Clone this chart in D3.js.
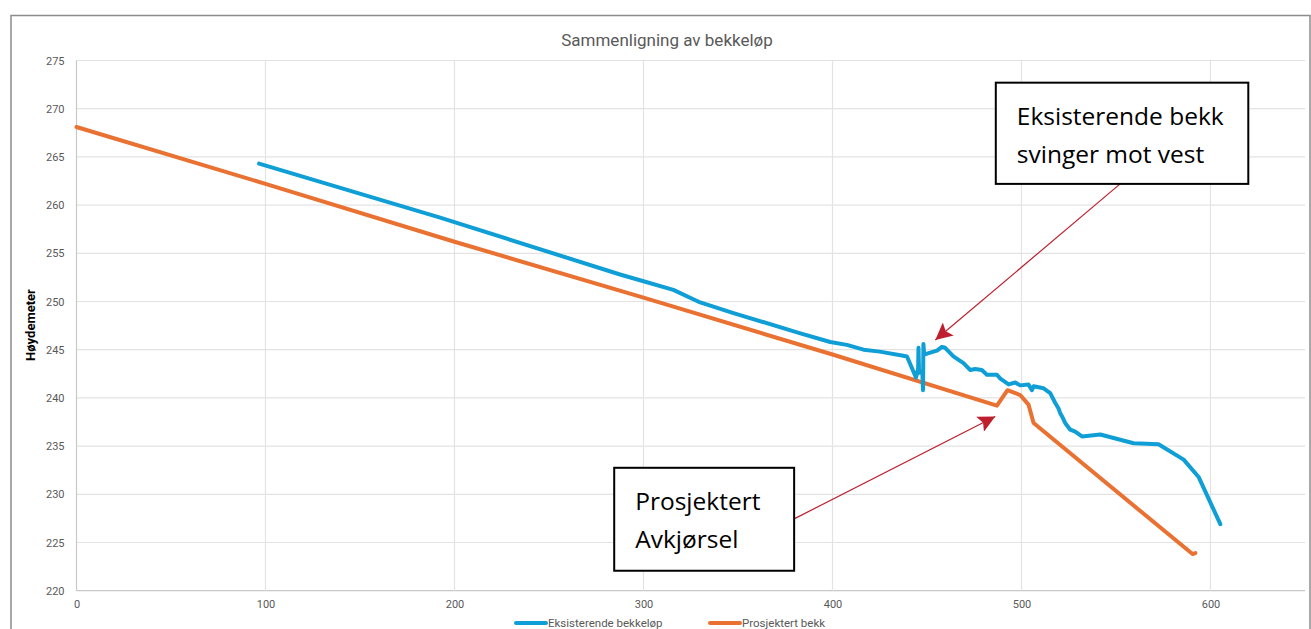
<!DOCTYPE html>
<html><head><meta charset="utf-8">
<script src="https://cdn.jsdelivr.net/npm/d3@7"></script>
<style>body{margin:0;background:#fff}svg{display:block}</style>
</head><body>
<svg id="c" width="1311" height="629"></svg>
<script>
// ---- data ----
const xTicks = [0,100,200,300,400,500,600];
const yTicks = [220,225,230,235,240,245,250,255,260,265,270,275];
const seriesNames = ["Eksisterende bekkeløp","Prosjektert bekk"];
const existingX = [96.6,192.4,287.6,300,315.8,330,347.6,383,398.8,407.6,416.4,425,436.7,439.4,444.2,445.3,445.5,445.8,447.5,447.9,448.1,448.5,450,453.5,455.3,457.9,459.6,464,469.3,472.8,475.5,479,481.7,487,488.8,493.2,496.7,499.3,503.7,505.5,506.4,511.7,515.2,517.8,519.6,520.5,521.4,523.1,525.8,528.4,532,541.7,559.3,572.5,585.8,593.7,605.2];
const existingY = [264.3,258.7,252.8,252.1,251.2,249.9,248.8,246.7,245.8,245.5,245.0,244.8,244.4,244.3,242.1,243.0,245.2,242.6,242.8,240.8,245.6,244.5,244.6,244.8,244.9,245.3,245.2,244.3,243.6,242.9,243.0,242.9,242.4,242.4,242.0,241.4,241.6,241.3,241.4,240.8,241.2,241.0,240.5,239.5,238.9,238.4,238.1,237.4,236.7,236.5,236.0,236.2,235.3,235.2,233.6,231.8,226.9];
const projectedX = [0,100,200,300,400,487,492.6,499.3,503.7,506.4,590.5,592];
const projectedY = [268.1,262.2,256.2,250.4,244.5,239.2,240.8,240.3,239.3,237.4,223.8,223.9];
const title = "Sammenligning av bekkeløp";
const yTitle = "Høydemeter";
const notes = [
  {lines:["Eksisterende bekk","svinger mot vest"], box:[486.4,272.7,620,262.2], from:[552.2,262.2], to:[454.4,246.0]},
  {lines:["Prosjektert","Avkjørsel"], box:[284.5,232.75,379.7,222.07], from:[379.7,227.45], to:[486.1,238.07]}
];

// ---- layout ----
const svg = d3.select("#c");
const L=76.5, R=1305, T=60.5, B=590.7;
const x = d3.scaleLinear().domain([0,650]).range([L,R]);
const y = d3.scaleLinear().domain([220,275]).range([B,T]);
const gray="#595959", blue="#0F9ED5", orange="#E97132", red="#BE1E2D";
const font="Roboto, 'Liberation Sans', sans-serif";

svg.append("rect").attr("x",11).attr("y",15.5).attr("width",1299).attr("height",700)
  .attr("fill","#fff").attr("stroke","#8c8c8c").attr("stroke-width",1.5);

// grid
svg.append("g").selectAll("line").data(yTicks).join("line")
  .attr("x1",L).attr("x2",R).attr("y1",d=>y(d)).attr("y2",d=>y(d))
  .attr("stroke",d=>d===220?"#c8c8c8":"#e3e3e3").attr("stroke-width",1.2);
svg.append("g").selectAll("line").data(xTicks).join("line")
  .attr("y1",T).attr("y2",B).attr("x1",d=>x(d)).attr("x2",d=>x(d))
  .attr("stroke",d=>d===0?"#c8c8c8":"#e3e3e3").attr("stroke-width",1.2);

// axes labels
const yAx = svg.append("g").attr("transform",`translate(${L},0)`)
  .call(d3.axisLeft(y).tickValues(yTicks).tickSize(0).tickPadding(12));
const xAx = svg.append("g").attr("transform",`translate(0,${B})`)
  .call(d3.axisBottom(x).tickValues(xTicks).tickSize(0).tickPadding(10));
[yAx,xAx].forEach(a=>{a.select(".domain").remove();
  a.selectAll("text").attr("fill",gray).style("font-family",font).style("font-size","11px");});

// title
svg.append("text").attr("x",667).attr("y",46).attr("text-anchor","middle")
  .attr("fill",gray).style("font-family",font).style("font-size","17px").text(title);
svg.append("text").attr("transform","translate(35,325) rotate(-90)").attr("text-anchor","middle")
  .attr("fill","#000").style("font-family",font).style("font-size","13px").style("font-weight","bold").text(yTitle);

// series
const line = d3.line().x(d=>x(d[0])).y(d=>y(d[1]));
const ex = existingX.map((v,i)=>[v,existingY[i]]);
const pr = projectedX.map((v,i)=>[v,projectedY[i]]);
svg.append("path").datum(pr).attr("d",line).attr("fill","none").attr("stroke",orange)
  .attr("stroke-width",4).attr("stroke-linejoin","round").attr("stroke-linecap","round");
svg.append("path").datum(ex).attr("d",line).attr("fill","none").attr("stroke",blue)
  .attr("stroke-width",4).attr("stroke-linejoin","round").attr("stroke-linecap","round");

// legend
const leg = [{n:seriesNames[0],c:blue,x:516},{n:seriesNames[1],c:orange,x:710}];
leg.forEach(l=>{
  svg.append("line").attr("x1",l.x).attr("x2",l.x+30).attr("y1",623).attr("y2",623)
    .attr("stroke",l.c).attr("stroke-width",4).attr("stroke-linecap","round");
  svg.append("text").attr("x",l.x+32).attr("y",627).attr("fill",gray)
    .style("font-family",font).style("font-size","11.5px").text(l.n);
});

// annotations
svg.append("defs").append("marker").attr("id","ah").attr("viewBox","0 0 10 10")
  .attr("refX",10).attr("refY",5).attr("markerWidth",19).attr("markerHeight",17)
  .attr("markerUnits","userSpaceOnUse").attr("orient","auto")
  .append("path").attr("d","M0,0 L10,5 L0,10 L2,5 Z").attr("fill",red);
notes.forEach(n=>{
  svg.append("line").attr("x1",x(n.from[0])).attr("y1",y(n.from[1]))
    .attr("x2",x(n.to[0])).attr("y2",y(n.to[1])).attr("stroke",red).attr("stroke-width",1.2)
    .attr("marker-end","url(#ah)");
  const bx=x(n.box[0]), by=y(n.box[1]), bw=x(n.box[2])-bx, bh=y(n.box[3])-by;
  svg.append("rect").attr("x",bx).attr("y",by).attr("width",bw).attr("height",bh)
    .attr("fill","#fff").attr("stroke","#000").attr("stroke-width",2);
  n.lines.forEach((t,i)=>{
    svg.append("text").attr("x",bx+21).attr("y",by+42+i*38).attr("fill","#000")
      .style("font-family","'Open Sans', sans-serif").style("font-size","24.5px").text(t);
  });
});
</script>
</body></html>
